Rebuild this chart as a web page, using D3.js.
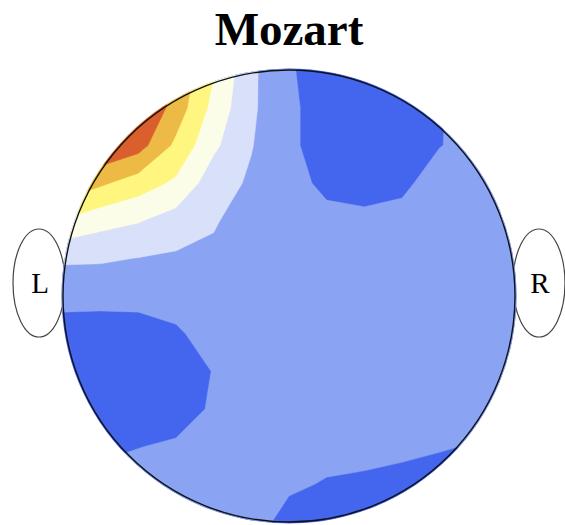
<!DOCTYPE html>
<html>
<head>
<meta charset="utf-8">
<script src="https://cdn.jsdelivr.net/npm/d3@7/dist/d3.min.js"></script>
<style>
  html, body { margin: 0; padding: 0; background: #fff; }
  svg { display: block; }
</style>
</head>
<body>
<svg id="chart" width="565" height="525"></svg>
<script>
// Scalp potential sampled on a 13 x 13 grid spanning the head's bounding box
// (row 0 = front/top, column 0 = left ear side).
const gridCols = 13;
const gridRows = 13;
const fieldValues = [
  [8.0, 8.0, 7.3, 5.8, 4.05, 2.2, 1.1, 0.55, 0.5, 0.6, 0.9, 1.2, 1.4],
  [8.0, 8.0, 7.2, 5.57, 3.69, 2.17, 1.17, 0.6, 0.5, 0.6, 0.95, 1.3, 1.4],
  [7.0, 7.0, 6.42, 4.78, 3.2, 2.05, 1.19, 0.55, 0.45, 0.5, 0.97, 1.3, 1.4],
  [5.8, 5.17, 4.5, 3.82, 2.45, 1.86, 1.39, 0.75, 0.55, 0.8, 1.43, 1.5, 1.5],
  [3.9, 3.35, 3.07, 2.57, 2.08, 1.6, 1.5, 1.3, 1.26, 1.3, 1.45, 1.5, 1.5],
  [2.15, 2.12, 1.98, 1.86, 1.83, 1.6, 1.55, 1.5, 1.5, 1.5, 1.5, 1.5, 1.5],
  [1.3, 1.3, 1.3, 1.45, 1.5, 1.5, 1.5, 1.5, 1.5, 1.5, 1.5, 1.5, 1.5],
  [0.6, 0.55, 0.6, 0.85, 1.45, 1.5, 1.5, 1.5, 1.5, 1.5, 1.5, 1.5, 1.5],
  [0.6, 0.5, 0.5, 0.6, 1.03, 1.45, 1.5, 1.5, 1.5, 1.5, 1.5, 1.5, 1.5],
  [0.7, 0.5, 0.5, 0.6, 1.12, 1.45, 1.5, 1.5, 1.45, 1.4, 1.5, 1.5, 1.5],
  [0.8, 0.8, 0.98, 1.12, 1.4, 1.4, 1.3, 1.3, 1.25, 1.15, 1.05, 0.95, 1.0],
  [1.3, 1.3, 1.4, 1.45, 1.5, 1.5, 1.15, 0.93, 0.86, 0.79, 0.72, 0.7, 0.9],
  [1.3, 1.3, 1.4, 1.4, 1.4, 1.4, 0.67, 0.6, 0.6, 0.6, 0.6, 0.7, 0.9]
];

// Contour levels and the fill used for each band (lowest band first).
const levels = [1, 2, 3, 4, 5, 6];
const bandColors = ["#4466ee", "#8aa3f2", "#d8e0fa", "#fcfde8", "#fff680", "#edbb45", "#da5f2d"];

const titleText = "Mozart";
const earLabels = ["L", "R"];

// Layout
const svg = d3.select("#chart");
const head = { cx: 289, cy: 296, r: 226 };

// Grid index -> pixel scales (d3.contours puts sample i at i + 0.5)
const xs = d3.scaleLinear().domain([0.5, gridCols - 0.5]).range([head.cx - head.r, head.cx + head.r]);
const ys = d3.scaleLinear().domain([0.5, gridRows - 0.5]).range([head.cy - head.r, head.cy + head.r]);

const projection = d3.geoTransform({
  point(x, y) { this.stream.point(xs(x), ys(y)); }
});
const path = d3.geoPath(projection);

const flat = fieldValues.flat();
const contourGen = d3.contours().size([gridCols, gridRows]).thresholds(levels);
const bands = contourGen(flat);

// Title
svg.append("text")
  .attr("x", head.cx)
  .attr("y", 45)
  .attr("text-anchor", "middle")
  .attr("font-family", "'Liberation Serif', 'Times New Roman', serif")
  .attr("font-weight", "bold")
  .attr("font-size", 47)
  .attr("fill", "#000")
  .text(titleText);

// Ears
const earDx = 250;
[-1, 1].forEach((side, k) => {
  const ex = head.cx + side * earDx;
  svg.append("ellipse")
    .attr("cx", ex)
    .attr("cy", 283)
    .attr("rx", 26)
    .attr("ry", 54)
    .attr("fill", "#fff")
    .attr("stroke", "#444")
    .attr("stroke-width", 1.2);
  svg.append("text")
    .attr("x", ex + 1)
    .attr("y", 293)
    .attr("text-anchor", "middle")
    .attr("font-family", "'Liberation Serif', 'Times New Roman', serif")
    .attr("font-size", 29)
    .attr("fill", "#000")
    .text(earLabels[k]);
});

// Clip for the scalp map
svg.append("clipPath")
  .attr("id", "scalp")
  .append("circle")
  .attr("cx", head.cx)
  .attr("cy", head.cy)
  .attr("r", head.r + 1.5);

const map = svg.append("g").attr("clip-path", "url(#scalp)");

// Lowest band as the base fill
map.append("circle")
  .attr("cx", head.cx)
  .attr("cy", head.cy)
  .attr("r", head.r + 2)
  .attr("fill", bandColors[0]);

// Filled regions above each level, stacked
map.selectAll("path.band")
  .data(bands)
  .join("path")
  .attr("class", "band")
  .attr("d", path)
  .attr("fill", (d, i) => bandColors[i + 1])
  .attr("stroke", (d, i) => bandColors[i + 1])
  .attr("stroke-width", 0.4);

// Head outline
svg.append("circle")
  .attr("cx", head.cx)
  .attr("cy", head.cy)
  .attr("r", head.r)
  .attr("fill", "none")
  .attr("stroke", "#111")
  .attr("stroke-width", 1.4);
</script>
</body>
</html>
